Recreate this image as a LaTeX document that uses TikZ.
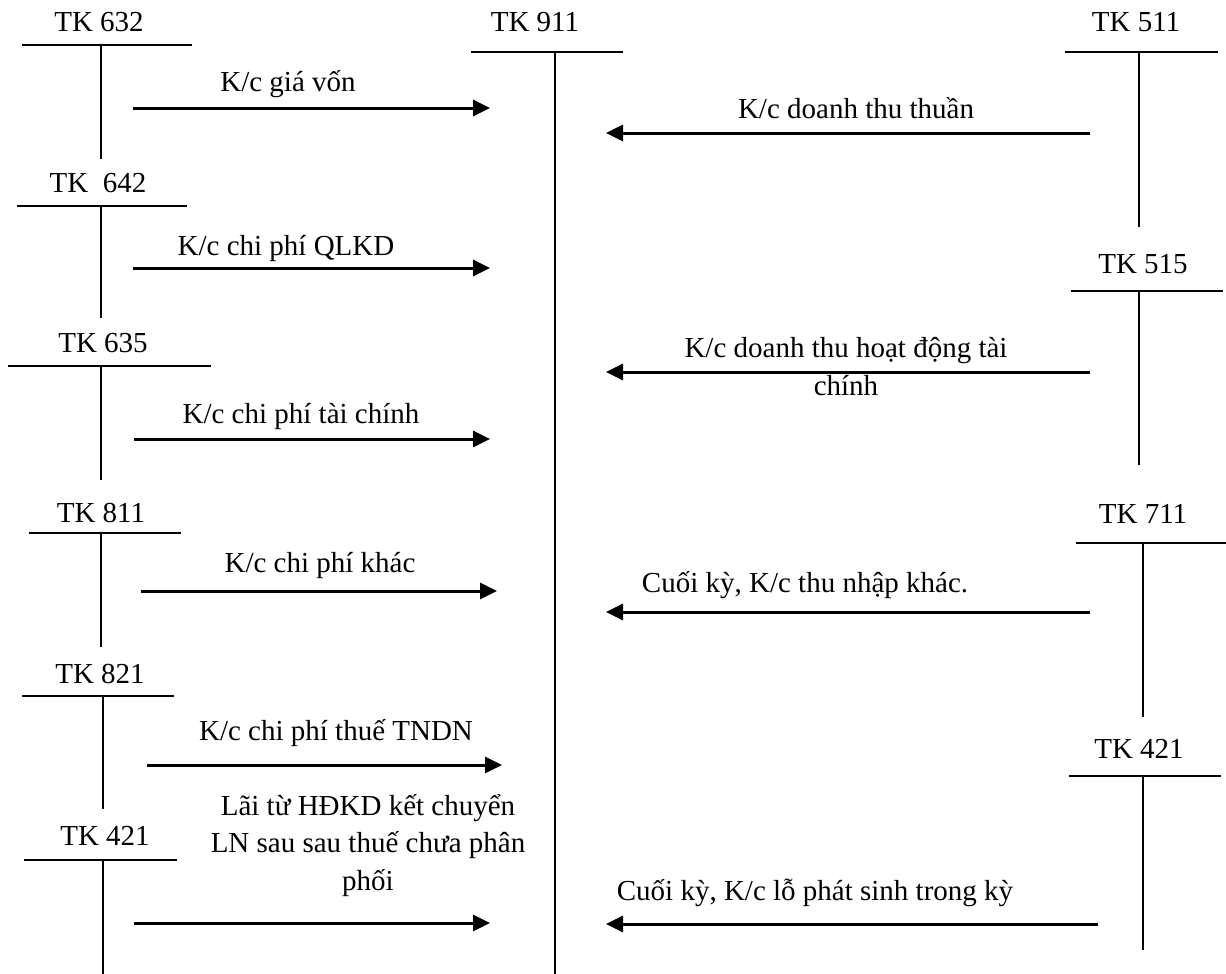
\documentclass[tikz,border=0pt]{standalone}
\usepackage{fontspec}
\setmainfont{Liberation Serif}
\usetikzlibrary{arrows.meta}
\begin{document}
\begin{tikzpicture}[x=1pt,y=-1pt,
  lbl/.style={font=\fontsize{29}{37.5}\selectfont, inner sep=0pt, anchor=base, align=center},
  acct/.style={line width=1.7pt},
  flow/.style={line width=3pt, -{Triangle[length=17pt,width=16pt]}}]
\useasboundingbox (0,0) rectangle (1226,974);
% ---- account labels ----
\node[lbl] (tk632) at (99,32) {TK 632};
\node[lbl] (tk642) at (98,192) {TK\ \ 642};
\node[lbl] (tk635) at (103,352) {TK 635};
\node[lbl] (tk811) at (101,522) {TK 811};
\node[lbl] (tk821) at (100,683) {TK 821};
\node[lbl] (tk421l) at (105,845) {TK 421};
\node[lbl] (tk911) at (535,32) {TK 911};
\node[lbl] (tk511) at (1136,32) {TK 511};
\node[lbl] (tk515) at (1143,273) {TK 515};
\node[lbl] (tk711) at (1143,523) {TK 711};
\node[lbl] (tk421r) at (1139,758) {TK 421};
% ---- T accounts ----
\draw[acct] (22,45) -- (192,45) (101,45) -- (101,159);
\draw[acct] (17,206) -- (187,206) (101,206) -- (101,318);
\draw[acct] (8,366) -- (211,366) (101,366) -- (101,480);
\draw[acct] (29,533) -- (181,533) (101,533) -- (101,647);
\draw[acct] (22,696) -- (174,696) (103,696) -- (103,809);
\draw[acct] (24,860) -- (177,860) (103,860) -- (103,974);
\draw[acct] (471,52) -- (623,52) (555,52) -- (555,974);
\draw[acct] (1065,52) -- (1218,52) (1139,52) -- (1139,227);
\draw[acct] (1071,291) -- (1223,291) (1139,291) -- (1139,465);
\draw[acct] (1076,543) -- (1226,543) (1143,543) -- (1143,717);
\draw[acct] (1069,776) -- (1221,776) (1143,776) -- (1143,950);
% ---- arrow ends ----
\coordinate (s1) at (133,108); \coordinate (e1) at (490,108);
\coordinate (s2) at (133,268); \coordinate (e2) at (490,268);
\coordinate (s3) at (134,439); \coordinate (e3) at (490,439);
\coordinate (s4) at (141,591); \coordinate (e4) at (497,591);
\coordinate (s5) at (147,765); \coordinate (e5) at (502,765);
\coordinate (s6) at (134,923); \coordinate (e6) at (490,923);
\coordinate (r1s) at (1090,133); \coordinate (r1e) at (606,133);
\coordinate (r2s) at (1090,372); \coordinate (r2e) at (606,372);
\coordinate (r3s) at (1090,612); \coordinate (r3e) at (606,612);
\coordinate (r4s) at (1098,924); \coordinate (r4e) at (606,924);
\draw[flow] (s1) -- (e1);
\draw[flow] (s2) -- (e2);
\draw[flow] (s3) -- (e3);
\draw[flow] (s4) -- (e4);
\draw[flow] (s5) -- (e5);
\draw[flow] (s6) -- (e6);
\draw[flow] (r1s) -- (r1e);
\draw[flow] (r2s) -- (r2e);
\draw[flow] (r3s) -- (r3e);
\draw[flow] (r4s) -- (r4e);
% ---- arrow labels ----
\node[lbl] (l1) at (288,92) {K/c giá vốn};
\node[lbl] (l2) at (286,255) {K/c chi phí QLKD};
\node[lbl] (l3) at (301,423) {K/c chi phí tài chính};
\node[lbl] (l4) at (320,572) {K/c chi phí khác};
\node[lbl] (l5) at (336,740) {K/c chi phí thuế TNDN};
\node[lbl] (l6) at (368,890) {Lãi từ HĐKD kết chuyển\\LN sau sau thuế chưa phân\\phối};
\node[lbl] (m1) at (856,118) {K/c doanh thu thuần};
\node[lbl] (m2) at (846,395) {K/c doanh thu hoạt động tài\\chính};
\node[lbl] (m3) at (805,592) {Cuối kỳ, K/c thu nhập khác.};
\node[lbl] (m4) at (815,900) {Cuối kỳ, K/c lỗ phát sinh trong kỳ};
\end{tikzpicture}
\end{document}
